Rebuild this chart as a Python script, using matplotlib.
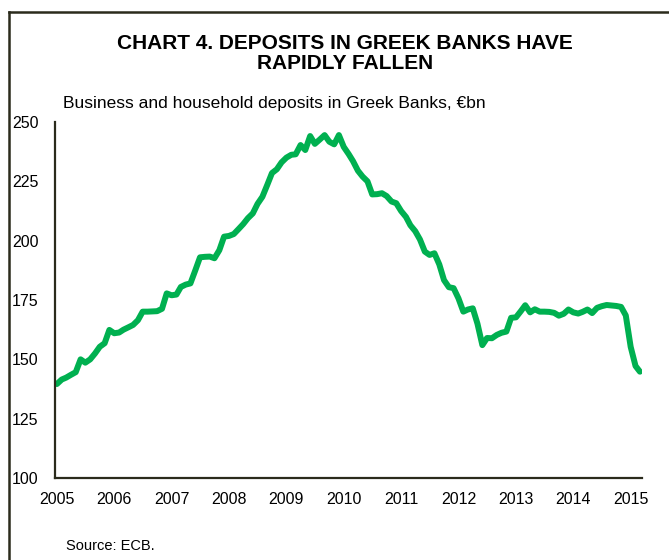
import pandas as pd
import matplotlib.pyplot as plt
import matplotlib.dates as mdates
from matplotlib.lines import Line2D

plt.rcParams['font.family'] = ['Liberation Sans', 'DejaVu Sans']

# monthly deposits, Jan 2005 - Mar 2015 (EUR bn)
deposits = [
    139.6, 141.5, 142.3, 143.5, 144.6, 150.0, 148.6, 150.0, 152.5, 155.3, 156.8, 162.4,
    161.0, 161.3, 162.5, 163.5, 164.5, 166.5, 170.1, 170.1, 170.2, 170.3, 171.3, 177.8,
    177.0, 177.3, 180.5, 181.5, 182.0, 187.5, 193.0, 193.2, 193.3, 192.6, 196.0, 201.7,
    202.0, 202.8, 204.8, 207.0, 209.5, 211.5, 215.5, 218.5, 223.5, 228.5, 230.1, 233.0,
    235.0, 236.2, 236.4, 240.3, 238.2, 244.1, 240.8, 242.6, 244.5, 241.7, 240.6, 244.5,
    239.5, 236.5, 233.5, 229.5, 227.0, 225.0, 219.5, 219.6, 220.0, 218.8, 216.5, 215.8,
    212.5, 210.0, 206.5, 204.0, 200.5, 195.4, 194.0, 194.7, 190.0, 183.4, 180.4, 180.0,
    175.7, 170.1, 171.0, 171.5, 165.0, 156.0, 159.0, 158.9, 160.3, 161.2, 161.7, 167.5,
    167.7, 170.3, 172.8, 169.8, 171.1, 170.1, 170.1, 170.0, 169.6, 168.4, 169.2, 171.0,
    169.8, 169.3, 170.0, 171.0, 169.5, 171.7, 172.4, 172.9, 172.7, 172.5, 172.1, 168.5,
    155.3, 147.2, 144.8,
]
dates = pd.date_range('2005-01-01', periods=len(deposits), freq='MS')
years = list(range(2005, 2016))
y_ticks = [100, 125, 150, 175, 200, 225, 250]

spine_col = '#2b2b1c'

fig = plt.figure(figsize=(6.69, 5.6), dpi=100)
ax = fig.add_axes([0.0822, 0.1464, 0.8774, 0.6357])

ax.plot(dates, deposits, color='#00b050', linewidth=4.3, solid_capstyle='round',
        solid_joinstyle='round')

ax.set_ylim(100, 250)
ax.set_yticks(y_ticks)
ax.set_xlim(pd.Timestamp('2004-12-20'), pd.Timestamp('2015-03-14'))
ax.set_xticks([pd.Timestamp(f'{y}-01-01') for y in years])
ax.xaxis.set_major_formatter(mdates.DateFormatter('%Y'))
ax.tick_params(length=0, labelsize=11.5, colors='black')
ax.tick_params(axis='x', pad=10)
ax.tick_params(axis='y', pad=12)

for s in ['top', 'right']:
    ax.spines[s].set_visible(False)
for s in ['left', 'bottom']:
    ax.spines[s].set_color(spine_col)
    ax.spines[s].set_linewidth(1.6)

fig.text(0.516, 0.876, 'CHART 4. DEPOSITS IN GREEK BANKS HAVE\nRAPIDLY FALLEN',
         ha='center', va='baseline', fontsize=15, fontweight='bold',
         linespacing=1.1)
fig.text(0.094, 0.808, 'Business and household deposits in Greek Banks, €bn',
         ha='left', va='baseline', fontsize=12.5)
fig.text(0.098, 0.017, 'Source: ECB.', ha='left', va='baseline', fontsize=10.5)

# frame lines on the left and top edges
fig.add_artist(Line2D([0.0135, 0.0135], [0, 0.9786], color=spine_col, linewidth=1.8))
fig.add_artist(Line2D([0.0135, 1.0], [0.9786, 0.9786], color=spine_col, linewidth=1.8))

fig.savefig('out.png', dpi=100)
plt.close(fig)
